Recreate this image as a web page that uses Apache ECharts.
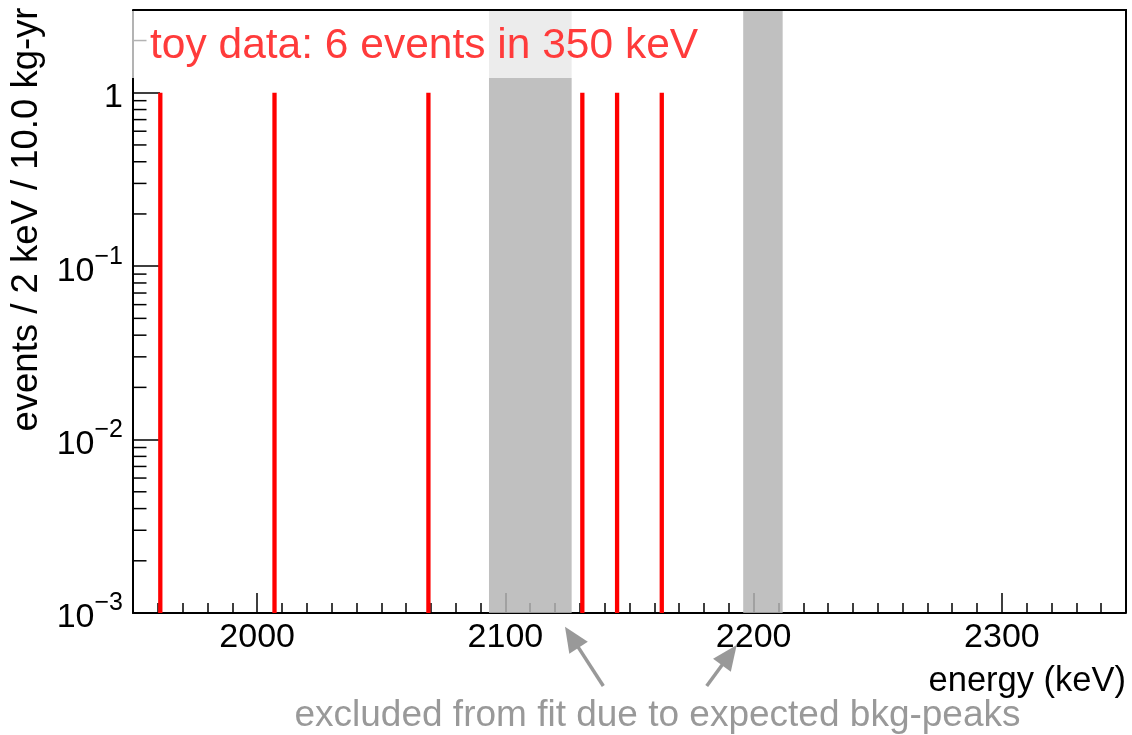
<!DOCTYPE html>
<html><head><meta charset="utf-8">
<script src="https://cdn.jsdelivr.net/npm/echarts@6/dist/echarts.min.js"></script>
<style>html,body{margin:0;padding:0;background:#fff}#c{width:1132px;height:735px}</style>
</head><body><div id="c"></div>
<script>
// ---- data ----
const eventEnergies = [1961, 2007, 2069, 2131, 2145, 2163];   // keV (2 keV bin centres)
const eventCounts   = [1, 1, 1, 1, 1, 1];
const excludedBands = [[2093.4, 2126.7], [2195.8, 2211.7]];   // keV
const xRange = [1950, 2350];
const yRange = [0.001, 3];
const yMinorTicks = [0.002,0.003,0.004,0.005,0.006,0.007,0.008,0.009,
                     0.02,0.03,0.04,0.05,0.06,0.07,0.08,0.09,
                     0.2,0.3,0.4,0.5,0.6,0.7,0.8,0.9,2];
const legendText = 'toy data: 6 events in 350 keV';
const xTitle = 'energy (keV)';
const yTitle = 'events / 2 keV / 10.0 kg-yr';
const noteText = 'excluded from fit due to expected bkg-peaks';

const FF = "'Liberation Sans', Arial, Helvetica, sans-serif";
const chart = echarts.init(document.getElementById('c'), null, {renderer:'canvas'});

function arrow(x1, y1, x2, y2, color) {
  const dx = x2 - x1, dy = y2 - y1, L = Math.hypot(dx, dy);
  const ux = dx / L, uy = dy / L, nx = -uy, ny = ux;
  const hl = 25, hw = 11;
  const bx = x2 - hl * ux, by = y2 - hl * uy;
  return [
    {type:'line', z:100, shape:{x1:x1, y1:y1, x2:bx + 4*ux, y2:by + 4*uy}, style:{stroke:color, lineWidth:3.5}},
    {type:'polygon', z:100, shape:{points:[[x2,y2],[bx+hw*nx, by+hw*ny],[bx-hw*nx, by-hw*ny]]}, style:{fill:color}}
  ];
}

const option = {
  animation: false,
  backgroundColor: '#fff',
  grid: {left:133, top:10, right:6, bottom:122, show:false},
  xAxis: {
    type:'value', min:xRange[0], max:xRange[1], splitNumber:4,
    axisLine:{show:true, lineStyle:{color:'#000', width:2}},
    axisTick:{show:true, inside:true, length:20, lineStyle:{color:'#000', width:1.5}},
    minorTick:{show:true, splitNumber:10, length:10, lineStyle:{color:'#000', width:1.5}},
    axisLabel:{showMinLabel:false, showMaxLabel:false, fontSize:34, color:'#000', fontFamily:FF, margin:8,
               formatter: function (v) { return String(Math.round(v)); }},
    splitLine:{show:false}
  },
  yAxis: {
    type:'log', logBase:10, min:yRange[0], max:yRange[1],
    axisLine:{show:true, lineStyle:{color:'#000', width:2}},
    axisTick:{show:true, inside:true, length:27, lineStyle:{color:'#000', width:1.5}},
    axisLabel:{
      margin:10, color:'#000', fontFamily:FF, showMaxLabel:false,
      formatter: function (v) {
        const e = Math.log10(v), r = Math.round(e);
        if (Math.abs(e - r) > 1e-6) return '';
        if (r === 0) return '{b|1}';
        return '{b|10}{s|\u2212' + Math.abs(r) + '}';
      },
      rich: {
        b:{fontSize:34, fontFamily:FF, color:'#000', lineHeight:44, verticalAlign:'bottom'},
        s:{fontSize:25, fontFamily:FF, color:'#000', lineHeight:25, verticalAlign:'top'}
      }
    },
    splitLine:{show:false}
  },
  series: [
    {
      type:'custom', z:3,
      data: eventEnergies.map((e, i) => [e, eventCounts[i]]),
      renderItem: function (params, api) {
        const top = api.coord([api.value(0), api.value(1)]);
        const bot = api.coord([api.value(0), yRange[0]]);
        return {type:'rect', shape:{x:top[0]-2.15, y:top[1], width:4.3, height:bot[1]-top[1]}, style:{fill:'#ff0000'}};
      },
      markArea: {
        silent:true,
        itemStyle:{color:'rgba(180,180,180,0.84)'},
        data: excludedBands.map(b => [{xAxis:b[0]}, {xAxis:b[1]}])
      }
    },
    {
      type:'custom', z:1, silent:true,
      data: yMinorTicks.map(v => [xRange[0], v]),
      renderItem: function (params, api) {
        const p = api.coord([api.value(0), api.value(1)]);
        return {type:'line', shape:{x1:p[0], y1:p[1], x2:p[0]+13.5, y2:p[1]}, style:{stroke:'#000', lineWidth:1.5}};
      }
    }
  ],
  graphic: [
    {type:'rect', z:100, shape:{x:124, y:11, width:590, height:67}, style:{fill:'rgba(255,255,255,0.7)'}},
    {type:'text', z:101, x:150, y:46, style:{text:legendText, fill:'#ff3b3b', font:'42.5px ' + FF, textAlign:'left', textVerticalAlign:'middle'}},
    {type:'polyline', z:102, shape:{points:[[133,10],[1126,10],[1126,613]]}, style:{stroke:'#000', lineWidth:2, fill:null}},
    {type:'text', z:101, x:1126, y:681, style:{text:xTitle, fill:'#000', font:'34.5px ' + FF, textAlign:'right', textVerticalAlign:'middle'}},
    {type:'text', z:101, x:27, y:219.5, rotation:Math.PI/2, style:{text:yTitle, fill:'#000', font:'36.5px ' + FF, textAlign:'center', textVerticalAlign:'middle'}},
    {type:'text', z:101, x:657.5, y:715.5, style:{text:noteText, fill:'#999999', font:'37px ' + FF, textAlign:'center', textVerticalAlign:'middle'}}
  ].concat(arrow(603.3, 686, 565, 626.7, '#999999'), arrow(706.7, 686, 736.7, 645, '#999999'))
};
chart.setOption(option);
</script>
</body></html>
